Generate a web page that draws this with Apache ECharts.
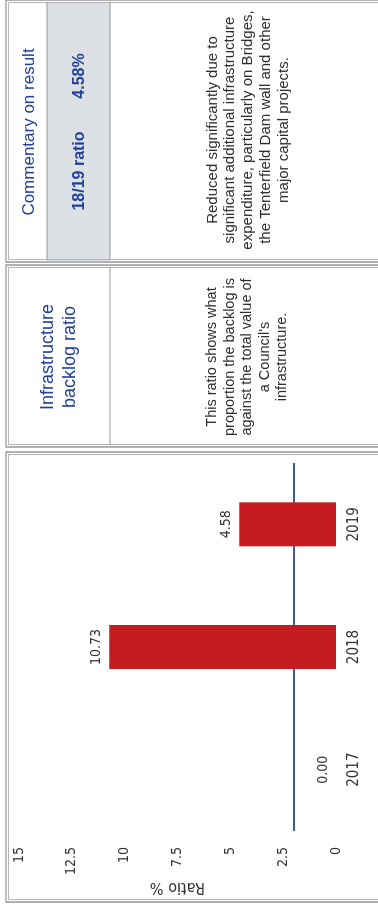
<!DOCTYPE html>
<html>
<head>
<meta charset="utf-8">
<script src="https://cdn.jsdelivr.net/npm/echarts@6/dist/echarts.min.js"></script>
<style>
  html, body { margin: 0; padding: 0; background: #ffffff; overflow: hidden; }
  body { width: 378px; height: 914px; position: relative; }
  /* The report page is laid out landscape and turned a quarter turn counter-clockwise */
  #page {
    position: absolute; left: 0; top: 0;
    width: 914px; height: 378px;
    transform-origin: 0 0;
    transform: translateY(914px) rotate(-90deg);
  }
</style>
</head>
<body>
<div id="page"></div>
<script>
// Infrastructure backlog ratio, %
const years = ['2017', '2018', '2019'];
const ratioValues = [0.00, 10.73, 4.58];
const benchmark = [2];
const yTicks = [0, 2.5, 5, 7.5, 10, 12.5, 15];

const chartFont = "'DejaVu Sans Condensed', 'DejaVu Sans', sans-serif";
const tableFont = "'Liberation Sans', Arial, sans-serif";
const navy = '#22409a';
const W = 914;

const chart = echarts.init(document.getElementById('page'), null, { renderer: 'canvas', width: 914, height: 378 });

// double-ruled panel frame
function frame(x, y, w, h) {
  return [
    { type: 'rect', shape: { x: x, y: y, width: w, height: h }, style: { fill: 'none', stroke: '#7f7f7f', lineWidth: 1.2 }, silent: true },
    { type: 'rect', shape: { x: x + 2.5, y: y + 2.5, width: w - 5, height: h - 5 }, style: { fill: 'none', stroke: '#b5b5b5', lineWidth: 1 }, silent: true }
  ];
}

const latest = ratioValues[ratioValues.length - 1];

const graphics = []
  // chart panel
  .concat(frame(12, 6, 450, 420))
  // ratio description panel
  .concat(frame(467, 6, 182, 420))
  .concat([
    { type: 'line', shape: { x1: 469, y1: 110, x2: 647, y2: 110 }, style: { stroke: '#9a9a9a', lineWidth: 1.2 }, silent: true },
    { type: 'text', x: 557, y: 59, style: { text: 'Infrastructure\nbacklog ratio', font: '18px ' + tableFont, fill: navy, align: 'center', verticalAlign: 'middle', lineHeight: 22 }, silent: true },
    { type: 'text', x: 557, y: 247, style: { text: "This ratio shows what\nproportion the backlog is\nagainst the total value of\na Council's\ninfrastructure.", font: '14.5px ' + tableFont, fill: '#2e2e2e', align: 'center', verticalAlign: 'middle', lineHeight: 17.5 }, silent: true }
  ])
  // commentary panel
  .concat([
    { type: 'rect', shape: { x: 653, y: 47, width: 259, height: 63 }, style: { fill: '#dde0e4' }, silent: true }
  ])
  .concat(frame(652, 6, 262, 420))
  .concat([
    { type: 'line', shape: { x1: 654, y1: 47, x2: 912, y2: 47 }, style: { stroke: '#9a9a9a', lineWidth: 1.2 }, silent: true },
    { type: 'line', shape: { x1: 654, y1: 110, x2: 912, y2: 110 }, style: { stroke: '#9a9a9a', lineWidth: 1.2 }, silent: true },
    { type: 'text', x: 782, y: 29, style: { text: 'Commentary on result', font: '17px ' + tableFont, fill: navy, align: 'center', verticalAlign: 'middle' }, silent: true },
    { type: 'text', x: 743, y: 80, style: { text: '18/19 ratio', font: 'bold 16px ' + tableFont, fill: navy, align: 'center', verticalAlign: 'middle' }, silent: true },
    { type: 'text', x: 838, y: 80, style: { text: latest.toFixed(2) + '%', font: 'bold 16px ' + tableFont, fill: navy, align: 'center', verticalAlign: 'middle' }, silent: true },
    { type: 'text', x: 784, y: 248, style: { text: 'Reduced significantly due to\nsignificant additional infrastructure\nexpenditure, particularly on Bridges,\nthe Tenterfield Dam wall and other\nmajor capital projects.', font: '15px ' + tableFont, fill: '#2e2e2e', align: 'center', verticalAlign: 'middle', lineHeight: 17.8 }, silent: true }
  ]);

chart.setOption({
  animation: false,
  backgroundColor: '#ffffff',
  grid: { left: 83, right: W - 451, top: 19, bottom: 42 },
  xAxis: {
    type: 'category',
    data: years,
    axisLine: { show: false },
    axisTick: { show: false },
    axisLabel: { margin: 11, fontFamily: chartFont, fontSize: 15, color: '#333333' }
  },
  yAxis: {
    type: 'value',
    min: yTicks[0],
    max: yTicks[yTicks.length - 1],
    interval: yTicks[1] - yTicks[0],
    name: 'Ratio %',
    nameLocation: 'middle',
    nameGap: 48,
    nameTextStyle: { fontFamily: chartFont, fontSize: 16, color: '#333333' },
    axisLine: { show: false },
    axisTick: { show: false },
    splitLine: { show: false },
    axisLabel: { margin: 16, fontFamily: chartFont, fontSize: 14, color: '#333333' }
  },
  series: [
    {
      name: 'Benchmark',
      type: 'line',
      data: [],
      z: 1,
      markLine: {
        silent: true,
        z: 1,
        symbol: ['none', 'none'],
        label: { show: false },
        lineStyle: { color: '#3b5bab', width: 2, type: 'solid' },
        data: benchmark.map(function (v) { return { yAxis: v }; })
      }
    },
    {
      name: 'Infrastructure backlog ratio',
      type: 'bar',
      z: 3,
      data: ratioValues,
      barWidth: 44,
      itemStyle: { color: '#c41c20', borderWidth: 0 },
      label: {
        show: true,
        position: 'top',
        distance: 6,
        fontFamily: chartFont,
        fontSize: 14,
        color: '#333333',
        formatter: function (p) { return p.value.toFixed(2); }
      }
    }
  ],
  graphic: { elements: graphics }
});
</script>
</body>
</html>
